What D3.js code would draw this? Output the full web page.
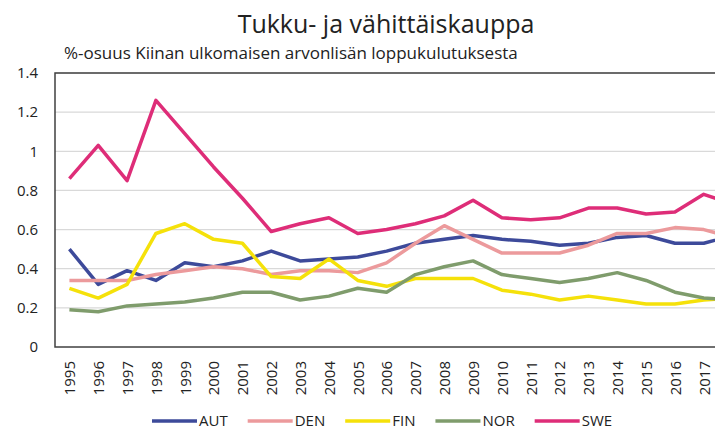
<!DOCTYPE html>
<html>
<head>
<meta charset="utf-8">
<script src="https://cdn.jsdelivr.net/npm/d3@7"></script>
<style>
  body { margin: 0; background: #fff; overflow: hidden; }
  .chart text { font-family: "Open Sans", "Liberation Sans", sans-serif; fill: #222; }
</style>
</head>
<body>
<div class="chart"></div>
<script>
// Years on the x axis (the original image is cut off after 2017)
const years = d3.range(1995, 2019).map(String);

// Series values, % share
const aut = [0.50,0.32,0.39,0.34,0.43,0.41,0.44,0.49,0.44,0.45,0.46,0.49,0.53,0.55,0.57,0.55,0.54,0.52,0.53,0.56,0.57,0.53,0.53,0.57];
const den = [0.34,0.34,0.34,0.37,0.39,0.41,0.40,0.37,0.39,0.39,0.38,0.43,0.53,0.62,0.55,0.48,0.48,0.48,0.52,0.58,0.58,0.61,0.60,0.56];
const fin = [0.30,0.25,0.32,0.58,0.63,0.55,0.53,0.36,0.35,0.45,0.34,0.31,0.35,0.35,0.35,0.29,0.27,0.24,0.26,0.24,0.22,0.22,0.24,0.25];
const nor = [0.19,0.18,0.21,0.22,0.23,0.25,0.28,0.28,0.24,0.26,0.30,0.28,0.37,0.41,0.44,0.37,0.35,0.33,0.35,0.38,0.34,0.28,0.25,0.24];
const swe = [0.86,1.03,0.85,1.26,1.09,0.92,0.76,0.59,0.63,0.66,0.58,0.60,0.63,0.67,0.75,0.66,0.65,0.66,0.71,0.71,0.68,0.69,0.78,0.73];

const yTicks = [0, 0.2, 0.4, 0.6, 0.8, 1, 1.2, 1.4];

const series = [
  {name: 'AUT', values: aut, color: '#3d4a9a'},
  {name: 'DEN', values: den, color: '#ec9a9c'},
  {name: 'FIN', values: fin, color: '#f5e10a'},
  {name: 'NOR', values: nor, color: '#7f9c6c'},
  {name: 'SWE', values: swe, color: '#de2d78'}
];

const W = 760, H = 432;
const plot = {left: 55, top: 73, right: 747, bottom: 347};

const svg = d3.select('.chart').append('svg')
  .attr('width', W)
  .attr('height', H);

const x = d3.scalePoint()
  .domain(years)
  .range([plot.left, plot.right])
  .padding(0.5);

const y = d3.scaleLinear()
  .domain([0, 1.4])
  .range([plot.bottom, plot.top]);

// Gridlines
svg.append('g')
  .selectAll('line')
  .data(yTicks.slice(1))
  .join('line')
  .attr('x1', plot.left)
  .attr('x2', plot.right)
  .attr('y1', d => y(d))
  .attr('y2', d => y(d))
  .attr('stroke', '#d9d9d9')
  .attr('stroke-width', 1.2);

// Y axis labels
const yAxis = svg.append('g')
  .attr('transform', `translate(${plot.left},0)`)
  .call(d3.axisLeft(y).tickValues(yTicks).tickSize(0).tickPadding(17).tickFormat(d3.format('~g')));
yAxis.select('.domain').remove();
yAxis.selectAll('text')
  .style('font-size', '15px')
  .attr('fill', '#222');

// X axis labels, rotated (2018 falls outside the visible area)
const xAxis = svg.append('g')
  .attr('transform', `translate(0,${plot.bottom})`)
  .call(d3.axisBottom(x).tickValues(years.slice(0, -1)).tickSize(0).tickPadding(0));
xAxis.select('.domain').remove();
xAxis.selectAll('text')
  .style('font-size', '15px')
  .attr('fill', '#222')
  .attr('text-anchor', 'end')
  .attr('transform', 'rotate(-90)')
  .attr('x', -14)
  .attr('y', 0)
  .attr('dy', '0.35em');

// Plot border
svg.append('rect')
  .attr('x', plot.left)
  .attr('y', plot.top)
  .attr('width', plot.right - plot.left)
  .attr('height', plot.bottom - plot.top)
  .attr('fill', 'none')
  .attr('stroke', '#404040')
  .attr('stroke-width', 1.5);

// Lines
const line = d3.line()
  .x((d, i) => x(years[i]))
  .y(d => y(d));

svg.append('g')
  .selectAll('path')
  .data(series)
  .join('path')
  .attr('d', d => line(d.values))
  .attr('fill', 'none')
  .attr('stroke', d => d.color)
  .attr('stroke-width', 3.5)
  .attr('stroke-linejoin', 'round');

// Title and subtitle
svg.append('text')
  .attr('x', 386)
  .attr('y', 33)
  .attr('text-anchor', 'middle')
  .style('font-size', '25px')
  .text('Tukku- ja vähittäiskauppa');

svg.append('text')
  .attr('x', 64)
  .attr('y', 59)
  .style('font-size', '17px')
  .text('%-osuus Kiinan ulkomaisen arvonlisän loppukulutuksesta');

// Legend: items laid out one after another
const legend = svg.append('g')
  .attr('transform', 'translate(0,421)');

let lx = 152;
series.forEach(s => {
  const g = legend.append('g').attr('transform', `translate(${lx},0)`);
  g.append('line')
    .attr('x1', 0)
    .attr('x2', 45)
    .attr('stroke', s.color)
    .attr('stroke-width', 3.5);
  const t = g.append('text')
    .attr('x', 47)
    .attr('dy', '0.35em')
    .style('font-size', '15px')
    .text(s.name);
  lx += 47 + t.node().getComputedTextLength() + 20;
});
</script>
</body>
</html>
